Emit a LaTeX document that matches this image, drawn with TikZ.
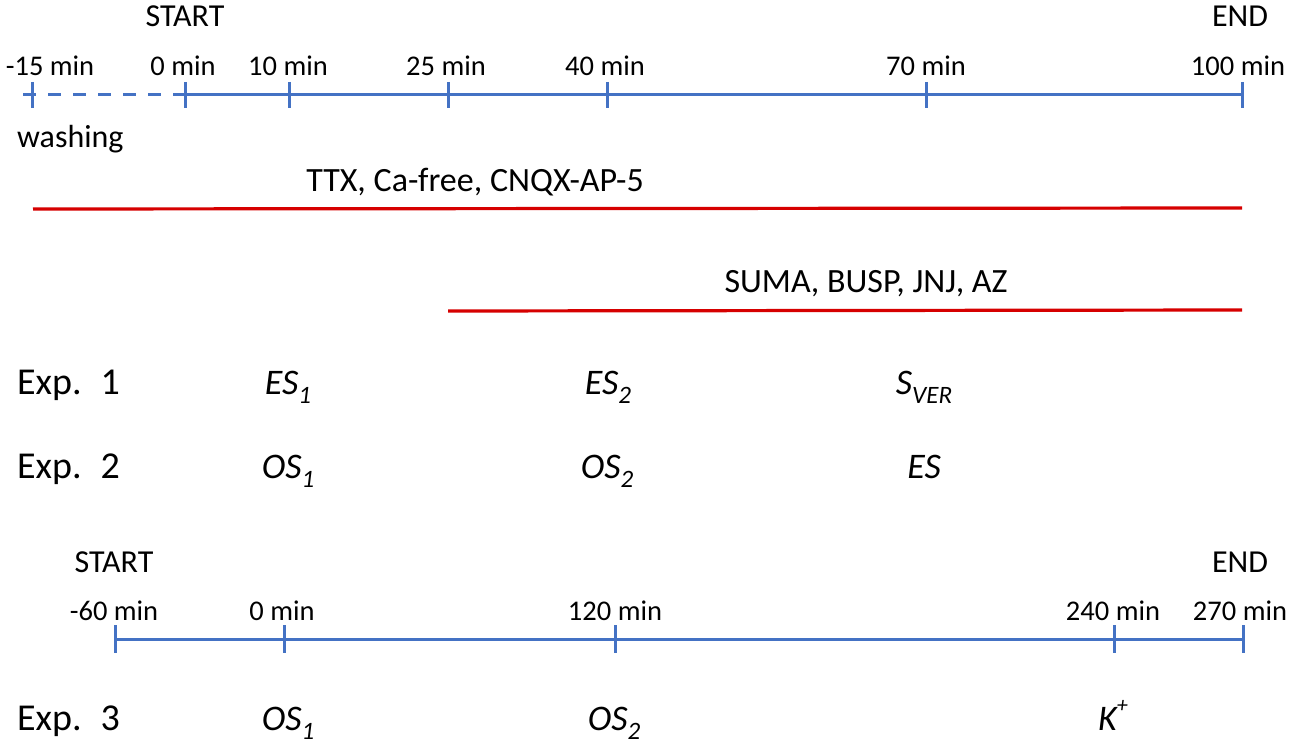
\documentclass[tikz,border=0pt]{standalone}
\usepackage{fontspec}
\setmainfont{Carlito}
\definecolor{tlblue}{RGB}{68,114,196}
\definecolor{barred}{RGB}{214,0,0}
\newcommand{\lowsub}[1]{\raisebox{-0.26em}{\fontsize{25}{27}\selectfont #1}}
\newcommand{\highsup}[1]{\raisebox{0.5em}{\fontsize{22}{24}\selectfont #1}}
\begin{document}
\begin{tikzpicture}[x=1pt,y=-1pt,
  axis/.style={draw=tlblue,line width=3pt},
  dashaxis/.style={draw=tlblue,line width=3pt,dash pattern=on 13pt off 12pt},
  tickmark/.style={draw=tlblue,line width=3pt},
  bar/.style={draw=barred,line width=3.2pt},
  minlbl/.style={anchor=base,inner sep=0pt,font=\fontsize{28.5}{30}\selectfont},
  headlbl/.style={anchor=base,inner sep=0pt,font=\fontsize{32}{34}\selectfont},
  druglbl/.style={anchor=base,inner sep=0pt,font=\fontsize{34}{36}\selectfont},
  explbl/.style={anchor=base west,inner sep=0pt,font=\fontsize{38}{40}\selectfont},
  stimlbl/.style={anchor=base,inner sep=0pt,font=\fontsize{36}{40}\selectfont\itshape},
]
\useasboundingbox (0,0) rectangle (1293,746);

% ---------- timeline 1 ----------
\coordinate (d0) at (23,95);
\coordinate (a1) at (32,95);
\coordinate (a2) at (185,95);
\coordinate (a3) at (289,95);
\coordinate (a4) at (448,95);
\coordinate (a5) at (607,95);
\coordinate (a6) at (926,95);
\coordinate (a7) at (1242,95);
\draw[dashaxis] (d0) -- (a2);
\draw[axis] (a2) -- (a7);
\foreach \c in {a1,a2,a3,a4,a5,a6,a7}
  \draw[tickmark] ([yshift=13pt]\c) -- ([yshift=-13pt]\c);

\node[headlbl] (start1) at (185,27) {START};
\node[headlbl] (end1) at (1240,27) {END};
\node[minlbl] (l1) at (50,76) {-15 min};
\node[minlbl] (l2) at (183,76) {0 min};
\node[minlbl] (l3) at (288,76) {10 min};
\node[minlbl] (l4) at (446,76) {25 min};
\node[minlbl] (l5) at (605,76) {40 min};
\node[minlbl] (l6) at (926,76) {70 min};
\node[minlbl] (l7) at (1238,76) {100 min};
\node[headlbl,anchor=base west] (wash) at (17,148) {washing};

% ---------- drug bars ----------
\node[druglbl] (drug1) at (475,192) {TTX, Ca-free, CNQX-AP-5};
\coordinate (r1s) at (33,209);
\coordinate (r1e) at (1242,208);
\draw[bar] (r1s) -- (r1e);
\node[druglbl] (drug2) at (866,292) {SUMA, BUSP, JNJ, AZ};
\coordinate (r2s) at (448,311);
\coordinate (r2e) at (1242,310);
\draw[bar] (r2s) -- (r2e);

% ---------- experiments 1 and 2 ----------
\node[explbl] (exp1) at (17,394) {Exp.\hspace{0.5em}1};
\node[stimlbl] (es1) at (288,394) {ES\lowsub{1}};
\node[stimlbl] (es2) at (608,394) {ES\lowsub{2}};
\node[stimlbl] (sver) at (924,394) {S\lowsub{VER}};
\node[explbl] (exp2) at (17,478) {Exp.\hspace{0.5em}2};
\node[stimlbl] (os1) at (288,478) {OS\lowsub{1}};
\node[stimlbl] (os2) at (607,478) {OS\lowsub{2}};
\node[stimlbl] (es) at (924,478) {ES};

% ---------- timeline 2 ----------
\coordinate (b1) at (115,639);
\coordinate (b2) at (284,639);
\coordinate (b3) at (615,639);
\coordinate (b4) at (1114,639);
\coordinate (b5) at (1243,639);
\draw[axis] (b1) -- (b5);
\foreach \c in {b1,b2,b3,b4,b5}
  \draw[tickmark] ([yshift=14pt]\c) -- ([yshift=-14pt]\c);
\node[headlbl] (start2) at (114,572) {START};
\node[headlbl] (end2) at (1240,572) {END};
\node[minlbl] (m1) at (114,620) {-60 min};
\node[minlbl] (m2) at (282,620) {0 min};
\node[minlbl] (m3) at (615,620) {120 min};
\node[minlbl] (m4) at (1113,620) {240 min};
\node[minlbl] (m5) at (1240,620) {270 min};

% ---------- experiment 3 ----------
\node[explbl] (exp3) at (17,730) {Exp.\hspace{0.5em}3};
\node[stimlbl] (os1b) at (288,730) {OS\lowsub{1}};
\node[stimlbl] (os2b) at (614,730) {OS\lowsub{2}};
\node[stimlbl] (kplus) at (1113,730) {K\highsup{+}};
\end{tikzpicture}
\end{document}
